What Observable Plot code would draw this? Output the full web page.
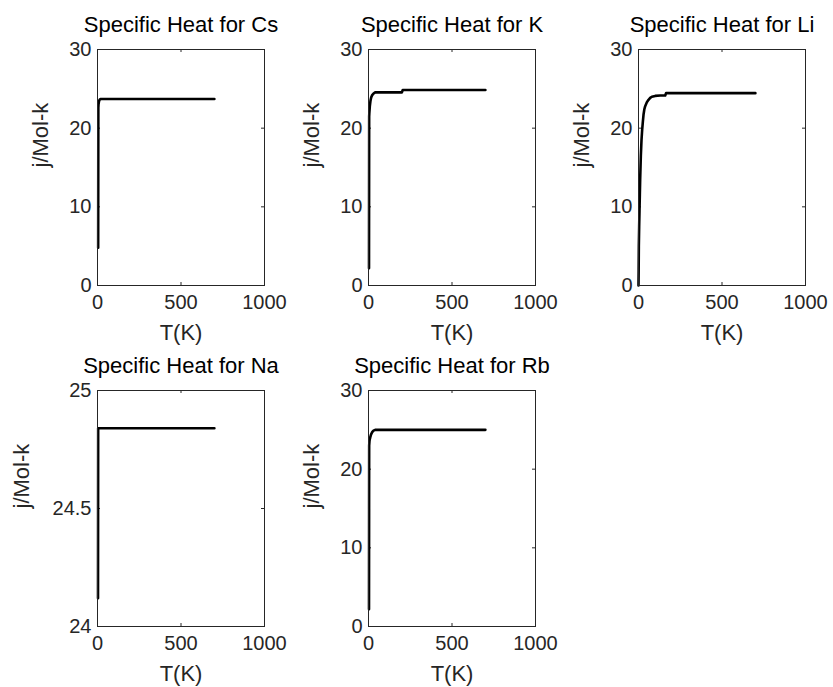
<!DOCTYPE html>
<html>
<head>
<meta charset="utf-8">
<script src="https://cdn.jsdelivr.net/npm/d3@7"></script>
<script src="https://cdn.jsdelivr.net/npm/@observablehq/plot@0.6"></script>
<style>
  html, body { margin: 0; padding: 0; background: #fff; }
  #fig { position: relative; width: 833px; height: 687px; overflow: hidden;
         font-family: "Liberation Sans", Arial, sans-serif; }
  #fig svg { position: absolute; overflow: visible; }
</style>
</head>
<body>
<div id="fig"></div>
<script>
// Molar specific heat (j/Mol-k) versus temperature T (K) for five alkali metals
const csT = [4, 5, 6, 8, 10, 14, 20, 50, 100, 300, 500, 700];
const csC = [4.8, 22.6, 23.0, 23.3, 23.5, 23.65, 23.7, 23.7, 23.7, 23.7, 23.7, 23.7];

const kT = [3, 4, 5, 8, 12, 16, 22, 30, 40, 100, 200, 205, 300, 500, 700];
const kC = [2.2, 21.5, 21.9, 22.8, 23.5, 23.9, 24.2, 24.4, 24.55, 24.55, 24.55, 24.85, 24.85, 24.85, 24.85];

const liT = [0, 1, 2, 4, 6, 8, 10, 14, 18, 22, 26, 30, 35, 40, 50, 60, 70, 80, 100, 130, 160, 165, 200, 400, 700];
const liC = [0, 2, 5, 7.5, 9.5, 11.5, 13.5, 16.5, 18.5, 19.8, 20.8, 21.7, 22.4, 22.8, 23.3, 23.6, 23.85, 24.0, 24.1, 24.15, 24.15, 24.45, 24.45, 24.45, 24.45];

const naT = [3, 4, 100, 300, 500, 700];
const naC = [24.12, 24.84, 24.84, 24.84, 24.84, 24.84];

const rbT = [3, 4, 6, 10, 15, 22, 30, 40, 100, 300, 500, 700];
const rbC = [2.2, 23.0, 23.6, 24.0, 24.4, 24.7, 24.9, 25.0, 25.0, 25.0, 25.0, 25.0];

// Tick values
const xTicks = [0, 500, 1000];
const yTicks30 = [0, 10, 20, 30];
const yTicksNa = [24, 24.5, 25];

const xLabel = "T(K)";
const yLabel = "j/Mol-k";

// Subplot grid: axes box left/top in page pixels
const panels = [
  {title: "Specific Heat for Cs", T: csT, C: csC, domain: [0, 30], ticks: yTicks30, left: 97,  top: 49,  ylab: 57},
  {title: "Specific Heat for K",  T: kT,  C: kC,  domain: [0, 30], ticks: yTicks30, left: 368, top: 49,  ylab: 57},
  {title: "Specific Heat for Li", T: liT, C: liC, domain: [0, 30], ticks: yTicks30, left: 638, top: 49,  ylab: 57},
  {title: "Specific Heat for Na", T: naT, C: naC, domain: [24, 25], ticks: yTicksNa, left: 97,  top: 390, ylab: 76},
  {title: "Specific Heat for Rb", T: rbT, C: rbC, domain: [0, 30], ticks: yTicks30, left: 368, top: 390, ylab: 57}
];

const W = 270, H = 340, ML = 92, MR = 11, MT = 45, MB = 59;
const iw = W - ML - MR, ih = H - MT - MB;
const ink = "#262626";
const font = "'Liberation Sans', Arial, sans-serif";
const tickFs = 20, labelFs = 22, titleFs = 22;

const fig = document.getElementById("fig");

for (const p of panels) {
  const data = p.T.map((t, i) => ({t, c: p.C[i]}));
  const chart = Plot.plot({
    width: W, height: H,
    marginLeft: ML, marginRight: MR, marginTop: MT, marginBottom: MB,
    style: {fontFamily: font, fontSize: tickFs + "px", color: ink, background: "transparent", overflow: "visible"},
    x: {domain: [0, 1000]},
    y: {domain: p.domain},
    marks: [
      Plot.axisX(xTicks, {tickSize: 0, tickPadding: 9, tickFormat: d => String(d), fontSize: tickFs, label: null}),
      Plot.axisY(p.ticks, {tickSize: 0, tickPadding: 6, tickFormat: d => String(d), fontSize: tickFs, label: null}),
      // inward ticks on all four sides
      Plot.ruleX(xTicks, {x: d => d, insetTop: ih - 3, stroke: ink}),
      Plot.ruleX(xTicks, {x: d => d, insetBottom: ih - 3, stroke: ink}),
      Plot.ruleY(p.ticks, {y: d => d, insetRight: iw - 3, stroke: ink}),
      Plot.ruleY(p.ticks, {y: d => d, insetLeft: iw - 3, stroke: ink}),
      Plot.line(data, {x: "t", y: "c", stroke: "#000", strokeWidth: 2.6}),
      Plot.frame({stroke: ink, strokeWidth: 1}),
      Plot.text([p.title], {text: d => d, frameAnchor: "top", dy: -18, lineAnchor: "bottom", fontSize: titleFs, fill: "#000"}),
      Plot.text([xLabel], {text: d => d, frameAnchor: "bottom", dy: 54, lineAnchor: "bottom", fontSize: labelFs}),
      Plot.text([yLabel], {text: d => d, frameAnchor: "left", dx: -p.ylab, rotate: -90, lineAnchor: "middle", fontSize: labelFs})
    ]
  });
  chart.style.left = (p.left - ML) + "px";
  chart.style.top = (p.top - MT) + "px";
  fig.appendChild(chart);
}
</script>
</body>
</html>
